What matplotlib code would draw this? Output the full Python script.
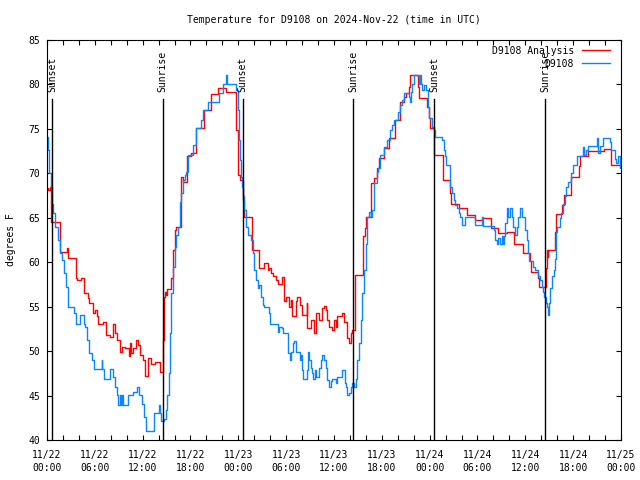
import matplotlib
matplotlib.use("Agg")
import matplotlib.pyplot as plt
import matplotlib.dates as mdates
import numpy as np
import pandas as pd

plt.rcParams['font.family'] = ['DejaVu Sans Mono']
plt.rcParams['font.size'] = 7

title = "Temperature for D9108 on 2024-Nov-22 (time in UTC)"
start = pd.Timestamp("2024-11-22 00:00")
end = pd.Timestamp("2024-11-25 00:00")

# hours since 2024-11-22 00:00 UTC
obs_hours = [0.0, 0.08, 0.25, 0.5, 0.59, 0.79, 1.0, 1.34, 1.63, 1.84, 2.13, 2.38, 2.59, 2.68, 3.43, 3.64, 4.14, 4.68, 4.77, 5.06,
             5.31, 5.6, 5.94, 6.86, 6.94, 7.19, 7.9, 8.32, 8.53, 8.74, 8.86, 9.16, 9.24, 9.45, 9.53, 10.16, 10.79, 11.33, 11.5, 11.96,
             12.17, 12.38, 13.42, 14.01, 14.18, 14.34, 14.68, 14.97, 15.1, 15.26, 15.39, 15.6, 15.81, 16.02, 16.22, 16.43, 16.64, 16.85, 17.06, 17.27,
             17.48, 17.69, 18.32, 18.73, 19.36, 19.57, 20.2, 21.62, 22.04, 22.45, 22.54, 23.71, 23.92, 24.13, 24.25, 24.34, 24.46, 24.63, 24.75, 24.96,
             25.17, 25.59, 25.8, 26.01, 26.22, 26.43, 26.63, 26.84, 27.05, 27.26, 27.89, 28.01, 28.94, 29.14, 29.48, 29.56, 30.27, 30.44, 30.61, 30.82,
             31.0, 31.19, 31.74, 31.9, 32.03, 32.15, 32.57, 32.74, 32.87, 33.07, 33.28, 33.41, 33.58, 33.7, 34.12, 34.33, 34.54, 34.75, 34.96, 35.16,
             35.37, 35.58, 35.79, 36.21, 36.42, 36.96, 37.34, 37.46, 37.67, 37.88, 38.09, 38.3, 38.51, 38.72, 38.93, 39.14, 39.35, 39.55, 39.76, 39.97,
             40.18, 40.39, 40.6, 40.81, 41.02, 41.44, 41.52, 41.73, 42.23, 42.65, 43.07, 43.28, 43.49, 43.99, 44.24, 44.53, 44.74, 45.37, 45.49, 45.66,
             45.79, 46.08, 46.62, 46.75, 46.91, 47.04, 47.25, 47.58, 47.75, 47.88, 48.29, 48.5, 48.71, 49.55, 49.76, 49.97, 50.09, 50.51, 50.59, 50.8,
             51.01, 51.22, 51.43, 51.64, 51.85, 52.02, 52.43, 53.69, 54.61, 54.69, 56.11, 56.2, 56.41, 56.61, 56.82, 57.03, 57.16, 57.33, 57.45, 57.66,
             57.87, 58.08, 58.29, 58.5, 58.71, 58.91, 59.12, 59.33, 59.54, 59.96, 60.17, 60.38, 60.5, 61.0, 61.21, 61.63, 61.84, 62.05, 62.26, 62.38,
             62.55, 62.72, 62.85, 62.97, 63.14, 63.39, 63.56, 63.68, 63.81, 63.89, 64.02, 64.39, 64.52, 64.73, 64.94, 65.15, 65.35, 65.77, 65.98, 66.52,
             67.24, 67.32, 67.65, 67.86, 68.99, 69.08, 69.33, 69.74, 70.58, 70.79, 71.21, 71.42, 71.63, 71.92, 72.0]
obs_temp = [74.1, 72.6, 70.0, 68.5, 66.6, 65.5, 64.0, 62.5, 61.0, 60.25, 58.75, 57.25, 56.1, 55.0, 54.25, 53.1, 54.1, 53.1, 52.75, 51.25,
            49.75, 49.0, 47.95, 49.0, 47.95, 46.9, 47.95, 47.1, 46.0, 45.05, 43.9, 45.05, 43.9, 45.05, 43.9, 45.05, 45.4, 46.0, 45.05, 44.1,
            42.6, 41.05, 43.0, 43.9, 43.0, 42.1, 42.4, 43.4, 45.05, 47.5, 52.0, 56.5, 59.5, 61.75, 63.1, 64.0, 66.8, 67.75, 69.25, 69.8,
            70.2, 72.1, 73.2, 75.05, 76.0, 77.1, 78.05, 79.0, 80.1, 81.05, 80.1, 79.4, 77.1, 73.75, 71.5, 69.6, 68.5, 67.4, 65.9, 64.0,
            63.1, 62.5, 61.0, 59.1, 58.0, 57.1, 57.45, 56.1, 55.2, 55.0, 54.25, 53.1, 52.2, 52.75, 52.6, 52.0, 49.75, 49.0, 49.95, 50.9,
            51.1, 49.95, 49.0, 49.55, 47.9, 46.9, 47.9, 49.95, 49.0, 48.05, 47.5, 46.9, 47.9, 47.1, 48.05, 49.0, 49.55, 49.0, 48.05, 46.75,
            46.0, 46.6, 46.9, 46.4, 47.1, 47.9, 46.4, 46.0, 45.05, 45.25, 46.0, 46.4, 46.0, 46.9, 49.0, 50.9, 53.5, 56.5, 59.1, 62.1,
            65.1, 65.7, 65.1, 65.9, 68.9, 70.2, 70.6, 72.1, 73.0, 73.75, 74.9, 75.45, 76.0, 76.95, 77.7, 78.25, 79.0, 78.6, 78.05, 79.2,
            80.1, 81.05, 80.1, 81.05, 80.1, 79.4, 79.9, 79.4, 77.5, 76.2, 75.25, 74.9, 74.1, 73.75, 72.6, 71.9, 70.9, 69.25, 68.5, 67.75,
            67.0, 66.45, 66.05, 65.5, 65.1, 64.2, 65.1, 64.2, 65.1, 64.1, 63.6, 62.5, 62.05, 62.7, 62.05, 62.9, 62.05, 62.9, 64.4, 66.05,
            65.1, 66.05, 65.1, 64.0, 63.1, 64.0, 65.1, 66.05, 65.1, 63.6, 62.5, 61.0, 60.1, 59.5, 59.1, 58.4, 58.0, 57.25, 56.7, 56.1,
            55.4, 55.0, 54.05, 55.4, 57.1, 58.4, 59.1, 60.4, 61.75, 63.45, 64.0, 64.95, 65.5, 66.6, 67.4, 68.5, 69.05, 70.0, 70.95, 71.9,
            73.0, 72.05, 72.6, 73.1, 74.0, 72.25, 73.1, 74.0, 73.55, 72.6, 71.6, 71.2, 71.95, 70.55, 70.55]

ana_hours = [0.0, 0.17, 0.38, 0.5, 1.63, 2.47, 2.68, 3.6, 3.72, 4.27, 4.68, 5.19, 5.31, 5.81, 6.02, 6.23, 6.44, 7.07, 7.4, 7.9,
             8.24, 8.53, 8.74, 9.16, 9.37, 9.78, 10.33, 10.37, 10.58, 10.79, 11.21, 11.41, 11.62, 12.04, 12.25, 12.67, 13.09, 13.51, 14.22, 14.55,
             14.68, 14.84, 14.97, 15.1, 15.6, 15.81, 16.02, 16.22, 16.77, 17.06, 17.6, 18.11, 18.65, 19.69, 20.61, 21.49, 22.45, 23.71, 23.92, 24.0,
             24.21, 24.63, 24.67, 25.67, 26.63, 27.26, 27.68, 27.89, 28.1, 28.31, 28.73, 28.94, 29.48, 29.69, 29.98, 30.4, 30.61, 30.73, 31.19, 31.4,
             31.74, 32.03, 32.57, 32.66, 33.16, 33.49, 33.7, 34.12, 34.54, 34.75, 34.96, 35.16, 35.37, 35.79, 36.0, 36.21, 36.42, 37.05, 37.25, 37.67,
             37.88, 38.09, 38.3, 38.64, 39.68, 39.85, 39.97, 40.68, 41.02, 41.44, 41.6, 42.23, 42.86, 43.7, 44.32, 44.74, 45.07, 45.37, 45.58, 46.5,
             46.62, 47.67, 47.88, 48.09, 48.59, 49.67, 50.59, 50.68, 51.64, 52.64, 53.69, 54.52, 55.69, 56.61, 57.66, 58.62, 59.67, 60.59, 60.71, 61.63,
             61.76, 62.64, 62.72, 62.8, 62.89, 63.68, 63.81, 64.64, 64.81, 65.77, 66.69, 66.82, 67.86, 69.87, 70.71, 70.79, 72.0]
ana_temp = [68.3, 68.1, 68.5, 64.55, 61.2, 61.55, 60.45, 58.2, 58.0, 58.2, 56.5, 55.95, 55.4, 54.25, 54.6, 53.9, 53.1, 53.3, 51.8, 51.6,
            53.1, 52.0, 51.25, 49.95, 50.5, 50.3, 49.4, 50.9, 49.75, 50.3, 51.25, 50.7, 49.55, 49.0, 47.2, 49.2, 48.6, 48.8, 47.7, 51.25,
            56.1, 56.7, 56.3, 56.95, 58.2, 61.4, 63.6, 64.0, 69.6, 69.05, 71.9, 72.25, 75.05, 77.1, 78.9, 79.55, 79.2, 74.9, 71.9, 69.8,
            69.25, 67.0, 65.1, 61.4, 59.3, 59.95, 59.1, 59.3, 58.75, 58.4, 58.0, 57.5, 58.3, 55.6, 56.1, 55.0, 55.75, 53.9, 55.6, 56.1,
            55.2, 54.05, 55.4, 52.6, 53.5, 52.0, 54.25, 53.5, 54.8, 55.1, 54.6, 53.5, 52.75, 52.4, 53.5, 52.75, 53.9, 54.25, 53.3, 51.45,
            50.9, 52.0, 52.4, 58.55, 62.9, 63.8, 65.1, 68.9, 69.45, 70.55, 71.7, 72.8, 73.95, 76.0, 78.05, 78.6, 79.0, 79.75, 81.05, 79.75,
            78.45, 77.5, 76.2, 75.05, 72.05, 69.25, 67.75, 66.6, 66.05, 65.3, 64.75, 64.95, 63.8, 63.25, 63.45, 62.1, 61.0, 60.1, 58.95, 58.2,
            57.25, 59.3, 61.4, 60.6, 61.4, 63.45, 65.4, 66.45, 67.55, 69.6, 70.8, 71.9, 72.5, 72.7, 71.5, 70.95, 70.95]

sunset_hours = [0.62, 24.55, 48.6]
sunrise_hours = [14.52, 38.43, 62.5]

def to_time(hours):
    return start + pd.to_timedelta(np.asarray(hours), unit="h")

fig = plt.figure(figsize=(6.4, 4.8), dpi=100)
ax = fig.add_axes([47/640, 40/480, 574/640, 400/480])

ax.plot(to_time(ana_hours), ana_temp, drawstyle="steps-post", color="#ff0000", lw=1.0, label="D9108 Analysis")
ax.plot(to_time(obs_hours), obs_temp, drawstyle="steps-post", color="#0a84ff", lw=1.0, label="D9108")

trans = ax.get_xaxis_transform()
for name, hrs in (("Sunset", sunset_hours), ("Sunrise", sunrise_hours)):
    for t in to_time(hrs):
        ax.plot([t, t], [0, 0.8525], transform=trans, color="black", lw=1.0)
        ax.text(t, 0.87, name, transform=trans, rotation=90, ha="center", va="bottom", fontsize=7)

ax.set_xlim(start, end)
ax.set_ylim(40, 85)
ax.set_yticks(np.arange(40, 86, 5))
ax.xaxis.set_major_locator(mdates.HourLocator(byhour=[0, 6, 12, 18]))
ax.xaxis.set_minor_locator(mdates.HourLocator(interval=2))
ax.xaxis.set_major_formatter(mdates.DateFormatter("%m/%d\n%H:%M"))
ax.tick_params(which="both", direction="in", top=True, right=True, width=0.8, labelsize=7, length=3.6)
ax.tick_params(axis="x", which="major", pad=7)
ax.tick_params(axis="y", which="major", pad=5)
for lbl in ax.get_xticklabels():
    lbl.set_linespacing(1.4)
for s in ax.spines.values():
    s.set_linewidth(0.8)

ax.set_ylabel("degrees F", fontsize=7, labelpad=8.5)
ax.set_title(title, fontsize=7, pad=12.5)

ax.legend(loc="upper right", bbox_to_anchor=(0.981, 0.9855), frameon=False, markerfirst=False,
          handlelength=2.9, handletextpad=0.8, labelspacing=0.3, borderaxespad=0, borderpad=0, fontsize=7)

fig.savefig("out.png", dpi=100)
